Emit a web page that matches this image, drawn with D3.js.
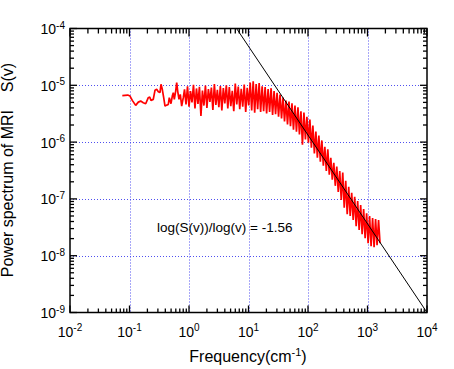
<!DOCTYPE html>
<html>
<head>
<meta charset="utf-8">
<script src="https://cdn.jsdelivr.net/npm/d3@7"></script>
<style>
  html, body { margin: 0; padding: 0; background: #fff; }
  svg text { font-family: "Liberation Sans", Arial, Helvetica, sans-serif; fill: #000; white-space: pre; }
</style>
</head>
<body>
<svg id="chart" width="454" height="369"></svg>
<script>
// ---- data ----
const freqLow = [0.0757, 0.0932, 0.102, 0.1114, 0.127, 0.1406, 0.154, 0.1706, 0.187, 0.207, 0.2185, 0.2296, 0.251, 0.268, 0.2864, 0.305, 0.3255, 0.338, 0.3556, 0.3756, 0.395, 0.4217, 0.4487, 0.4667, 0.498, 0.524, 0.5445, 0.566, 0.5976, 0.6214, 0.6456, 0.679, 0.714, 0.7535, 0.8017];
const powerLow = [6.58e-6, 6.73e-6, 6.47e-6, 5.43e-6, 4.43e-6, 5.06e-6, 5.27e-6, 4.94e-6, 4.74e-6, 6.06e-6, 6.21e-6, 5.43e-6, 5.65e-6, 8.17e-6, 8.5e-6, 7.73e-6, 7.43e-6, 1.04e-5, 8.5e-6, 6.06e-6, 4.3e-6, 4.48e-6, 4.6e-6, 6.06e-6, 4.74e-6, 6.47e-6, 7.43e-6, 5.65e-6, 7.93e-6, 1.12e-5, 7.93e-6, 5.65e-6, 6.93e-6, 4.3e-6, 6.06e-6];

const freqHigh = [0.841, 0.891, 0.944, 1, 1.059, 1.122, 1.189, 1.26, 1.335, 1.414, 1.498, 1.587, 1.682, 1.782, 1.888,
  2, 2.119, 2.245, 2.378, 2.52, 2.67, 2.828, 2.997, 3.175, 3.364, 3.564, 3.775,
  4, 4.238, 4.49, 4.757, 5.04, 5.339, 5.657, 5.993, 6.35, 6.727, 7.127, 7.551,
  8, 8.476, 8.98, 9.514, 10.08, 10.68, 11.31, 11.99, 12.7, 13.45, 14.25, 15.1,
  16, 16.95, 17.96, 19.03, 20.16, 21.36, 22.63, 23.97, 25.4, 26.91, 28.51, 30.2,
  32, 33.9, 35.92, 38.05, 40.32, 42.71, 45.25, 47.94, 50.8, 53.82, 57.02, 60.41,
  64, 67.8, 71.84, 76.11, 80.63, 85.43, 90.51, 95.89, 101.6, 107.6, 114, 120.8,
  128, 135.6, 143.7, 152.2, 161.3, 170.9, 181, 191.8, 203.2, 215.3, 228.1, 241.6,
  256, 271.2, 287.4, 304.4, 322.5, 341.7, 362, 383.6, 406.4, 430.5, 456.1, 483.3,
  512, 542.4, 574.7, 608.9, 645.1, 683.4, 724.1, 767.1, 812.7, 861.1, 912.3, 966.5,
  1024, 1085, 1149, 1218, 1290, 1367, 1448, 1534, 1625];
const powerHigh = [
  8.5e-6, 4.6e-6, 9.6e-6, 4.2e-6, 7.9e-6, 5.0e-6, 1.02e-5, 3.9e-6, 8.8e-6, 4.7e-6, 9.4e-6, 2.9e-6,
  8.1e-6, 4.4e-6, 9.9e-6, 4.0e-6, 8.6e-6, 5.1e-6, 9.1e-6, 3.7e-6, 1.05e-5, 4.5e-6, 8.3e-6, 4.1e-6,
  9.7e-6, 3.6e-6, 8.9e-6, 4.8e-6, 1.0e-5, 3.9e-6, 9.3e-6, 4.3e-6, 8.0e-6, 3.5e-6, 1.07e-5, 4.6e-6,
  9.5e-6, 3.8e-6, 8.7e-6, 4.2e-6, 1.03e-5, 3.4e-6, 9.0e-6, 4.4e-6,
  1.12e-5, 3.6e-6, 1.18e-5, 3.3e-6, 1.05e-5, 3.8e-6, 1.1e-5, 3.4e-6, 9.6e-6,
  3.5e-6, 9.3e-6, 3.2e-6, 8.6e-6, 3.4e-6, 8.9e-6, 3.0e-6, 7.9e-6, 3.1e-6,
  7.4e-6, 2.8e-6, 6.9e-6, 2.6e-6, 6.1e-6, 2.3e-6, 5.4e-6, 2.04e-6, 5.2e-6, 1.9e-6,
  4.8e-6, 1.66e-6, 4.4e-6, 1.53e-6, 4.1e-6, 1.36e-6, 3.47e-6, 9.0e-7, 3.3e-6, 1.11e-6,
  2.8e-6, 9.8e-7, 2.5e-6, 8.0e-7, 1.96e-6, 6.3e-7, 1.53e-6, 5.3e-7, 1.3e-6, 4.5e-7,
  1.07e-6, 3.85e-7, 8.3e-7, 3.1e-7, 7.5e-7, 2.66e-7, 5.3e-7, 2.17e-7, 4.3e-7, 1.7e-7,
  3.7e-7, 1.33e-7, 3.1e-7, 9.6e-8, 2.9e-7, 7.0e-8, 2.08e-7, 5.4e-8, 1.63e-7, 5.0e-8,
  1.28e-7, 4.25e-8, 1.09e-7, 3.3e-8, 9.2e-8, 2.83e-8, 7.8e-8, 2.4e-8, 6.6e-8, 2.03e-8,
  5.6e-8, 1.66e-8, 5.0e-8, 1.47e-8, 4.6e-8, 1.41e-8, 4.4e-8, 1.53e-8, 4.25e-8, 1.66e-8];

// power-law fit line, slope -1.56 in log-log
const fitFreq = [6.3, 10000];
const fitPower = [1e-4, 1.0e-9];

const xTickExps = [-2, -1, 0, 1, 2, 3, 4];
const yTickExps = [-9, -8, -7, -6, -5, -4];
const fitLabel = "log(S(v))/log(v) = -1.56";
const xTitle = "Frequency(cm";
const xTitleSup = "-1";
const yTitle = "Power spectrum of MRI    S(v)";

// ---- drawing ----
const svg = d3.select("#chart");
const x = d3.scaleLog().domain([1e-2, 1e4]).range([70, 427]);
const y = d3.scaleLog().domain([1e-9, 1e-4]).range([312.5, 28.5]);

const isMajor = v => Math.abs(Math.log10(v) - Math.round(Math.log10(v))) < 1e-6;

// grid
const grid = svg.append("g").attr("stroke", "#5050f0").attr("stroke-width", 1)
  .attr("stroke-dasharray", "1,2").attr("fill", "none");
xTickExps.slice(1, -1).forEach(e => {
  const px = Math.round(x(Math.pow(10, e))) + 0.5;
  grid.append("line").attr("x1", px).attr("x2", px).attr("y1", y.range()[1]).attr("y2", y.range()[0]);
});
yTickExps.slice(1, -1).forEach(e => {
  const py = Math.round(y(Math.pow(10, e))) + 0.5;
  grid.append("line").attr("x1", x.range()[0]).attr("x2", x.range()[1]).attr("y1", py).attr("y2", py);
});

// data
const lowPts = freqLow.map((f, i) => [f, powerLow[i]]);
const n = Math.min(freqHigh.length, powerHigh.length);
const highPts = d3.range(n).map(i => [freqHigh[i], powerHigh[i]]);
const allPts = lowPts.concat(highPts);
const line = d3.line().x(d => x(d[0])).y(d => y(d[1]));

svg.append("defs").append("clipPath").attr("id", "clip")
  .append("rect").attr("x", 70).attr("y", 28.5).attr("width", 357).attr("height", 284);

svg.append("path").datum(allPts)
  .attr("clip-path", "url(#clip)")
  .attr("d", line).attr("fill", "none").attr("stroke", "#ff0000")
  .attr("stroke-width", 1.7).attr("stroke-linejoin", "bevel");

svg.append("path").datum(fitFreq.map((f, i) => [f, fitPower[i]]))
  .attr("clip-path", "url(#clip)")
  .attr("d", line).attr("fill", "none").attr("stroke", "#000").attr("stroke-width", 1);

// axes box and ticks
const ax = svg.append("g").attr("stroke", "#000").attr("fill", "none");
const [x0, x1] = x.range();
const [yb, yt] = y.range();
ax.append("rect").attr("x", x0).attr("y", yt).attr("width", x1 - x0).attr("height", yb - yt)
  .attr("stroke-width", 1.5);

x.ticks().forEach(v => {
  const px = x(v);
  const len = isMajor(v) ? 7 : 4;
  ax.append("line").attr("x1", px).attr("x2", px).attr("y1", yb).attr("y2", yb - len).attr("stroke-width", 1.3);
  ax.append("line").attr("x1", px).attr("x2", px).attr("y1", yt).attr("y2", yt + len + 1).attr("stroke-width", 1.3);
});
y.ticks().forEach(v => {
  const py = y(v);
  const len = isMajor(v) ? 7 : 4;
  ax.append("line").attr("x1", x0).attr("x2", x0 + len).attr("y1", py).attr("y2", py).attr("stroke-width", 1.3);
  ax.append("line").attr("x1", x1).attr("x2", x1 - len).attr("y1", py).attr("y2", py).attr("stroke-width", 1.3);
});

// tick labels
xTickExps.forEach(e => {
  const t = svg.append("text").attr("x", x(Math.pow(10, e))).attr("y", 337)
    .attr("text-anchor", "middle").style("font-size", "14px");
  t.append("tspan").text("10");
  t.append("tspan").attr("dy", -6).style("font-size", "10px").text(String(e));
});
yTickExps.forEach(e => {
  const t = svg.append("text").attr("x", 65).attr("y", y(Math.pow(10, e)) + 5.5)
    .attr("text-anchor", "end").style("font-size", "14px");
  t.append("tspan").text("10");
  t.append("tspan").attr("dy", -5.5).style("font-size", "10px").text(String(e));
});

// annotation
svg.append("text").attr("x", 157).attr("y", 232).style("font-size", "13.5px").text(fitLabel);

// titles
const xt = svg.append("text").attr("x", 248).attr("y", 362).attr("text-anchor", "middle")
  .style("font-size", "16px");
xt.append("tspan").text(xTitle);
xt.append("tspan").attr("dy", -6).style("font-size", "11px").text(xTitleSup);
xt.append("tspan").attr("dy", 6).text(")");

svg.append("text").attr("transform", "rotate(-90)")
  .attr("x", -170).attr("y", 13).attr("text-anchor", "middle")
  .style("font-size", "16px").text(yTitle);
</script>
</body>
</html>
